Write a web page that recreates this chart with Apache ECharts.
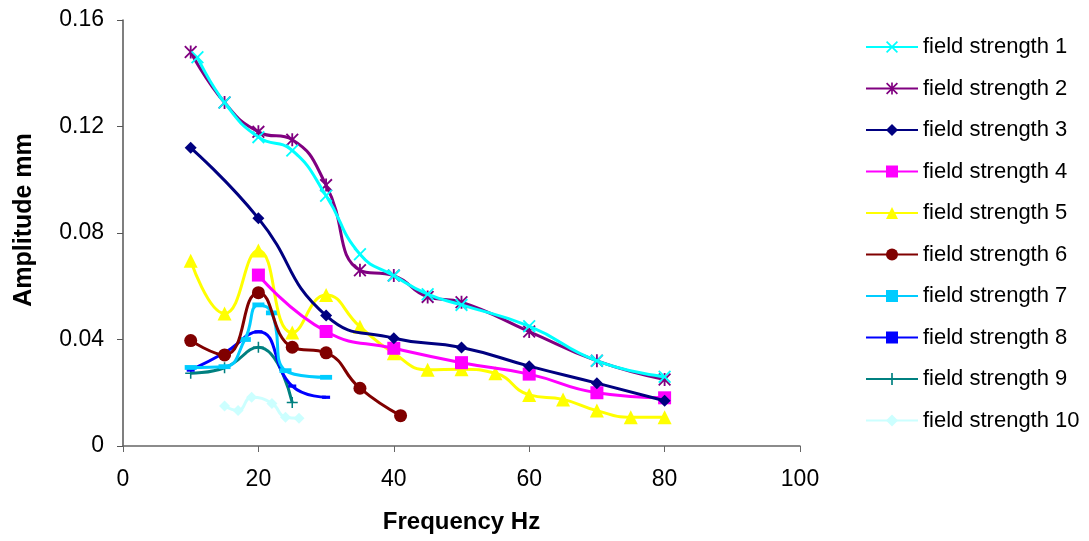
<!DOCTYPE html>
<html>
<head>
<meta charset="utf-8">
<script src="https://cdn.jsdelivr.net/npm/echarts@6/dist/echarts.min.js"></script>
<style>
html,body{margin:0;padding:0;background:#fff;}
#chart{width:1089px;height:541px;}
</style>
</head>
<body>
<div id="chart"></div>
<script>
// ---- data ----
const seriesNames = ['field strength 1','field strength 2','field strength 3','field strength 4','field strength 5','field strength 6','field strength 7','field strength 8','field strength 9','field strength 10'];
const xTicks = [0, 20, 40, 60, 80, 100];
const yTicks = [0, 0.04, 0.08, 0.12, 0.16];

const freq1 = [11, 15, 20, 25, 30, 35, 40, 45, 50, 60, 70, 80];
const amp1  = [0.146, 0.129, 0.116, 0.111, 0.094, 0.072, 0.064, 0.057, 0.053, 0.045, 0.032, 0.026];
const freq2 = [10, 15, 20, 25, 30, 35, 40, 45, 50, 60, 70, 80];
const amp2  = [0.148, 0.129, 0.118, 0.115, 0.098, 0.066, 0.064, 0.056, 0.054, 0.043, 0.032, 0.025];
const freq3 = [10, 20, 30, 40, 50, 60, 70, 80];
const amp3  = [0.112, 0.0855, 0.049, 0.0405, 0.037, 0.030, 0.0236, 0.017];
const freq4 = [20, 30, 40, 50, 60, 70, 80];
const amp4  = [0.0642, 0.043, 0.0367, 0.0313, 0.027, 0.020, 0.0181];
const freq5 = [10, 15, 20, 25, 30, 35, 40, 45, 50, 55, 60, 65, 70, 75, 80];
const amp5  = [0.0696, 0.0498, 0.0734, 0.0426, 0.0567, 0.0448, 0.0348, 0.0286, 0.0288, 0.0273, 0.0192, 0.0175, 0.0133, 0.0108, 0.0108];
const freq6 = [10, 15, 20, 25, 30, 35, 41];
const amp6  = [0.0396, 0.0342, 0.0576, 0.0371, 0.035, 0.0217, 0.0114];
const freq7 = [10, 15, 18, 20, 22, 24, 30];
const amp7  = [0.0295, 0.0298, 0.040, 0.053, 0.050, 0.0283, 0.0258];
const freq8 = [10, 15, 20, 25, 30];
const amp8  = [0.0285, 0.035, 0.0429, 0.0225, 0.0183];
const freq9 = [10, 15, 20, 25];
const amp9  = [0.0273, 0.0294, 0.0371, 0.0163];
const freq10 = [15, 17, 19, 22, 24, 26];
const amp10  = [0.015, 0.0133, 0.0183, 0.016, 0.0108, 0.0104];

const freqs = [freq1, freq2, freq3, freq4, freq5, freq6, freq7, freq8, freq9, freq10];
const amps  = [amp1, amp2, amp3, amp4, amp5, amp6, amp7, amp8, amp9, amp10];

// ---- styles ----
const colors = ['#00FFFF', '#800080', '#000080', '#FF00FF', '#FFFF00', '#800000', '#00CCFF', '#0000FF', '#008080', '#CCFFFF'];
const X_PATH = 'path://M1,0 L5,4 L9,0 L10,1 L6,5 L10,9 L9,10 L5,6 L1,10 L0,9 L4,5 L0,1 Z';
const STAR_PATH = 'path://M1,0 L5,4 L9,0 L10,1 L6,5 L10,9 L9,10 L5,6 L1,10 L0,9 L4,5 L0,1 Z M4.3,0 L5.7,0 L5.7,10 L4.3,10 Z';
const PLUS_PATH = 'path://M4.3,0 L5.7,0 L5.7,4.3 L10,4.3 L10,5.7 L5.7,5.7 L5.7,10 L4.3,10 L4.3,5.7 L0,5.7 L0,4.3 L4.3,4.3 Z';
const DASH_PATH = 'path://M0,0 L10,0 L10,4 L0,4 Z';
const symbols = [X_PATH, STAR_PATH, 'diamond', 'rect', 'triangle', 'circle', DASH_PATH, DASH_PATH, PLUS_PATH, 'diamond'];
const symbolSizes = [13, 13, 12, 13, 14, 13, 12, 8, 11, 11];
const lineWidths = [3, 3, 3, 3, 3, 3, 3, 3, 3, 3];

const series = seriesNames.map((name, i) => ({
  name: name,
  type: 'line',
  smooth: 0.5,
  data: freqs[i].map((f, k) => [f, amps[i][k]]),
  symbol: symbols[i],
  symbolSize: symbolSizes[i],
  symbolKeepAspect: true,
  showAllSymbol: true,
  lineStyle: { color: colors[i], width: lineWidths[i] },
  itemStyle: { color: colors[i], borderWidth: 0 },
  emphasis: { disabled: true },
  z: 10 - i
}));

const chart = echarts.init(document.getElementById('chart'), null, { renderer: 'canvas' });
chart.setOption({
  animation: false,
  backgroundColor: '#ffffff',
  textStyle: { fontFamily: '"Liberation Sans", Arial, sans-serif' },
  grid: { left: 123, right: 289, top: 20, bottom: 95, containLabel: false },
  xAxis: {
    type: 'value',
    min: xTicks[0], max: xTicks[xTicks.length - 1], interval: 20,
    name: 'Frequency Hz',
    nameLocation: 'middle',
    nameGap: 64,
    nameTextStyle: { fontSize: 24, fontWeight: 'bold', color: '#000', fontFamily: '"Liberation Sans", Arial, sans-serif' },
    axisLine: { show: true, onZero: false, lineStyle: { color: '#666', width: 1.5 } },
    axisTick: { show: true, inside: false, length: 6, lineStyle: { color: '#666' } },
    axisLabel: { fontSize: 23, color: '#000', margin: 22 },
    splitLine: { show: false }
  },
  yAxis: {
    type: 'value',
    min: yTicks[0], max: yTicks[yTicks.length - 1], interval: 0.04,
    name: 'Amplitude mm',
    nameLocation: 'middle',
    nameGap: 86,
    nameRotate: 90,
    nameTextStyle: { fontSize: 25, fontWeight: 'bold', color: '#000', fontFamily: '"Liberation Sans", Arial, sans-serif', padding: [0, 0, 0, 26] },
    axisLine: { show: true, onZero: false, lineStyle: { color: '#555', width: 1.5 } },
    axisTick: { show: true, inside: false, length: 6, lineStyle: { color: '#555' } },
    axisLabel: { fontSize: 23, color: '#000', margin: 19, formatter: v => (v === 0 ? '0' : String(+v.toFixed(2))) },
    splitLine: { show: false }
  },
  legend: {
    orient: 'vertical',
    left: 860,
    top: 31,
    itemWidth: 52,
    itemHeight: 15,
    itemGap: 19.5,
    textStyle: { fontSize: 22, color: '#000' },
    data: seriesNames
  },
  series: series
});
</script>
</body>
</html>
